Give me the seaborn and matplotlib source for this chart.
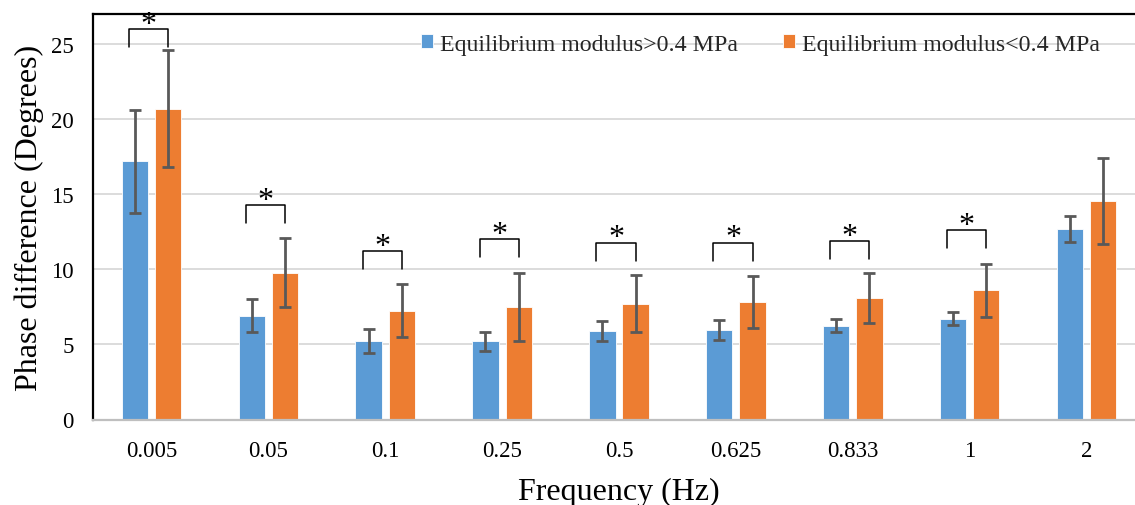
import numpy as np
import pandas as pd
import matplotlib
matplotlib.use("Agg")
import matplotlib.pyplot as plt
import seaborn as sns

# ---------------- data ----------------
frequencies = ["0.005", "0.05", "0.1", "0.25", "0.5", "0.625", "0.833", "1", "2"]
series_names = ["Equilibrium modulus>0.4 MPa", "Equilibrium modulus<0.4 MPa"]
high_mean = [17.2, 6.9, 5.2, 5.2, 5.9, 5.95, 6.25, 6.72, 12.7]
high_err = [3.43, 1.1, 0.8, 0.63, 0.69, 0.66, 0.45, 0.42, 0.87]
low_mean = [20.7, 9.77, 7.25, 7.5, 7.72, 7.85, 8.1, 8.61, 14.57]
low_err = [3.9, 2.3, 1.75, 2.25, 1.92, 1.73, 1.68, 1.77, 2.86]
sig_bracket_top = [25.97, 14.28, 11.21, 12.01, 11.77, 11.77, 11.9, 12.59, None]
y_ticks = [0, 5, 10, 15, 20, 25]

colors = ["#5B9BD5", "#ED7D31"]

df = pd.DataFrame({
    "freq": frequencies * 2,
    "group": [series_names[0]] * len(frequencies) + [series_names[1]] * len(frequencies),
    "value": high_mean + low_mean,
})
errs = [high_err, low_err]

sns.set_theme(style="white")
plt.rcParams["font.family"] = ["Liberation Serif", "DejaVu Serif"]

fig = plt.figure(figsize=(11.35, 5.06), dpi=100)
ax = fig.add_axes([93 / 1135, (506 - 420.5) / 506, 1052 / 1135, (420.5 - 15) / 506])

sns.barplot(data=df, x="freq", y="value", hue="group", order=frequencies,
            hue_order=series_names, palette=colors, errorbar=None,
            width=0.57, gap=0.21, saturation=1, edgecolor="white",
            linewidth=0.6, ax=ax, zorder=2)

# error bars
centers = []
for cont, err in zip(ax.containers, errs):
    xs = [b.get_x() + b.get_width() / 2 for b in cont]
    ys = [b.get_height() for b in cont]
    centers.append(xs)
    ax.errorbar(xs, ys, yerr=err, fmt="none", ecolor="#595959",
                elinewidth=2.0, capsize=4.3, capthick=2.0, zorder=3)

# significance brackets
leg = 1.2
for i, top in enumerate(sig_bracket_top):
    if top is None:
        continue
    x0 = centers[0][i] - 0.05
    x1 = centers[1][i]
    ax.plot([x0, x0, x1, x1], [top - leg, top, top, top - leg], color="black",
            lw=1.1, solid_joinstyle="round", zorder=4)
    ax.text((x0 + x1) / 2, top - 0.65, "*", ha="center", va="bottom",
            fontsize=23, color="black", zorder=4)

ax.set_ylim(0, 27)
ax.set_xlim(-0.5, len(frequencies) - 0.5)
ax.set_yticks(y_ticks)
ax.yaxis.grid(True, color="#d9d9d9", lw=1.3, zorder=0)
ax.set_axisbelow(True)
ax.tick_params(axis="y", labelsize=16.5, pad=14, length=0, colors="black")
ax.tick_params(axis="x", labelsize=16.5, pad=15, length=0, colors="black")

for s in ["left", "top", "right"]:
    ax.spines[s].set_color("black")
    ax.spines[s].set_linewidth(1.6)
ax.spines["bottom"].set_color("#bfbfbf")
ax.spines["bottom"].set_linewidth(1.6)

ax.set_xlabel("Frequency (Hz)", fontsize=23, labelpad=11, color="black")
ax.set_ylabel("Phase difference (Degrees)", fontsize=23, labelpad=5, color="black")

handles, labels = ax.get_legend_handles_labels()
if ax.get_legend() is not None:
    ax.get_legend().remove()
fig.legend(handles, labels, loc="center", bbox_to_anchor=(0.670, 0.911),
           ncol=2, frameon=False, fontsize=17.2, handlelength=0.5,
           handleheight=0.5, handletextpad=0.3, columnspacing=1.9)

fig.savefig("out.png", dpi=100)
